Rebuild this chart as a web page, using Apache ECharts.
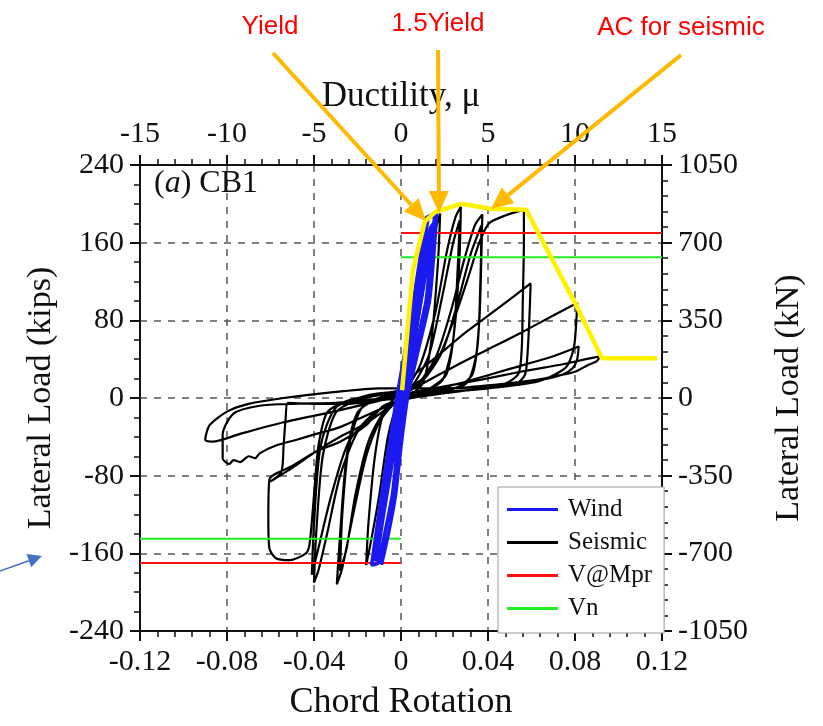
<!DOCTYPE html>
<html>
<head>
<meta charset="utf-8">
<script src="https://cdn.jsdelivr.net/npm/echarts@6/dist/echarts.min.js"></script>
<style>
  html, body { margin: 0; padding: 0; background: #fff; }
  #chart { width: 823px; height: 726px; }
</style>
</head>
<body>
<div id="chart"></div>
<script>
// axis ranges
const rotationRange = [-0.12, 0.12]
const loadRange = [-240, 240]
const kNRange = [-1050, 1050]
const ductilityRange = [-15, 15]

// wind test: dense elastic band (chord rotation, kips)
const windUp1 = [[-0.009, -172], [-0.0058, -140], [-0.0025, -100], [0.000, -50], [0.003, 0], [0.008, 50], [0.0131, 100], [0.0150, 145], [0.0164, 190]]
const windDown1 = [[0.0115, 185], [0.0085, 140], [0.0057, 100], [0.002, 50], [-0.002, 0], [-0.0055, -50], [-0.009, -100], [-0.0115, -140], [-0.0135, -172]]
const windUp2 = [[-0.0105, -170], [-0.0075, -140], [-0.004, -100], [-0.0015, -50], [0.0015, 0], [0.0065, 50], [0.0115, 100], [0.0135, 145], [0.0155, 188]]
const windDown2 = [[0.0125, 185], [0.010, 140], [0.0072, 100], [0.0035, 50], [-0.0005, 0], [-0.004, -50], [-0.0075, -100], [-0.010, -140], [-0.012, -168]]
const windUp3 = [[-0.0112, -165], [-0.008, -120], [-0.005, -80], [-0.0005, -20], [0.002, 10], [0.006, 60], [0.010, 110], [0.0128, 150], [0.0150, 180]]
const windDown3 = [[0.0135, 175], [0.0105, 130], [0.0075, 90], [0.003, 30], [0.000, -10], [-0.003, -40], [-0.0065, -90], [-0.0095, -130], [-0.0125, -165]]

// seismic test: cycles of increasing amplitude
const seismic1 = [[0, 0], [0.004, 60], [0.008, 120], [0.006, 60], [0.002, 5], [-0.004, -50], [-0.008, -110], [-0.006, -55], [-0.002, -5]]
const seismic2 = [[0.003, 20], [0.008, 80], [0.013, 150], [0.018, 190], [0.017, 140], [0.014, 60], [0.010, 15], [0.004, 2], [-0.002, -10], [-0.006, -40], [-0.010, -100], [-0.014, -150], [-0.016, -172], [-0.015, -130], [-0.012, -60], [-0.008, -15], [-0.003, 0]]
const seismic3 = [[0.002, 8], [0.009, 35], [0.016, 90], [0.021, 150], [0.025, 186], [0.0275, 197], [0.027, 150], [0.025, 80], [0.021, 25], [0.012, 8], [0.004, 2], [-0.004, -8], [-0.010, -25], [-0.016, -60], [-0.022, -120], [-0.027, -175], [-0.0295, -192], [-0.028, -140], [-0.025, -60], [-0.020, -15], [-0.010, 0], [0, 3]]
const seismic4 = [[0.006, 15], [0.013, 45], [0.019, 105], [0.024, 160], [0.027, 183], [0.026, 130], [0.024, 60], [0.019, 18], [0.010, 6], [0, -2], [-0.008, -15], [-0.015, -45], [-0.021, -100], [-0.025, -155], [-0.028, -178], [-0.027, -120], [-0.024, -50], [-0.018, -10], [-0.008, 2], [0, 5]]
const seismic5 = [[0.008, 15], [0.016, 42], [0.023, 90], [0.029, 142], [0.034, 178], [0.0374, 189], [0.037, 150], [0.036, 80], [0.033, 25], [0.025, 10], [0.012, 4], [0, -2], [-0.010, -12], [-0.020, -35], [-0.028, -80], [-0.034, -140], [-0.038, -178], [-0.040, -190], [-0.039, -140], [-0.036, -60], [-0.030, -15], [-0.020, -2], [-0.008, 4], [0, 8]]
const seismic6 = [[0.010, 18], [0.019, 48], [0.026, 98], [0.032, 148], [0.037, 178], [0.0365, 120], [0.035, 50], [0.030, 15], [0.015, 6], [0, -3], [-0.012, -15], [-0.024, -45], [-0.032, -100], [-0.038, -155], [-0.041, -182], [-0.040, -130], [-0.037, -50], [-0.030, -10], [-0.015, 3], [0, 8]]
const seismic7 = [[0.010, 20], [0.018, 45], [0.025, 85], [0.031, 125], [0.036, 160], [0.0405, 180], [0.048, 188], [0.0565, 194], [0.0565, 160], [0.056, 100], [0.0555, 50], [0.054, 25], [0.048, 15], [0.035, 9], [0.020, 5], [0.005, 0], [-0.008, -8], [-0.016, -28], [-0.028, -45], [-0.039, -55], [-0.050, -70], [-0.0605, -84], [-0.061, -124], [-0.0605, -155], [-0.0575, -165], [-0.0514, -167], [-0.0437, -160], [-0.042, -150], [-0.040, -100], [-0.038, -50], [-0.034, -15], [-0.025, -3], [-0.012, 3], [0, 8]]
const seismic8 = [[0.004, 20], [0.015, 40], [0.030, 68], [0.045, 93], [0.0596, 118], [0.059, 80], [0.058, 40], [0.057, 24], [0.0527, 14], [0.040, 10], [0.025, 7], [0.010, 3], [0, 0], [-0.012, -3], [-0.025, -6], [-0.040, -6], [-0.052, -5], [-0.053, -20], [-0.054, -50], [-0.055, -76], [-0.060, -86], [-0.050, -72], [-0.039, -55], [-0.028, -40], [-0.016, -26], [-0.006, -10], [0, 2]]
const seismic9 = [[0.010, 15], [0.025, 33], [0.040, 50], [0.055, 67], [0.070, 85], [0.081, 98], [0.0805, 75], [0.0794, 51], [0.0756, 31], [0.063, 17], [0.040, 10], [0.020, 6], [0, 2], [-0.015, -2], [-0.030, -5], [-0.050, -6], [-0.065, -8], [-0.077, -16], [-0.082, -38], [-0.082, -62], [-0.079, -68], [-0.077, -64], [-0.074, -66], [-0.070, -60], [-0.067, -62], [-0.065, -57], [-0.0575, -49], [-0.048, -43], [-0.039, -37], [-0.028, -30], [-0.016, -18], [-0.006, -8], [0, -2]]
const seismic10 = [[0.010, 5], [0.030, 17], [0.050, 30], [0.070, 43], [0.0817, 53], [0.081, 40], [0.079, 31], [0.074, 24], [0.060, 17], [0.040, 12], [0.020, 10], [-0.010, 10], [-0.031, 6], [-0.054, 0], [-0.070, -6], [-0.080, -14], [-0.088, -28], [-0.090, -43], [-0.0866, -45], [-0.074, -37], [-0.054, -25], [-0.031, -14], [-0.0084, -2], [0, 3]]
const seismic11 = [[0.015, 10], [0.035, 18], [0.055, 27], [0.075, 35], [0.085, 40], [0.0916, 43], [0.090, 38], [0.086, 34], [0.080, 27], [0.070, 22], [0.063, 19], [0.045, 14], [0.025, 10], [0.005, 6]]

// design strengths (kips)
const vMprPos = [[0, 170], [0.12, 170]]
const vMprNeg = [[-0.12, -170], [0, -170]]
const vnPos = [[0, 145], [0.12, 145]]
const vnNeg = [[-0.12, -145], [0, -145]]

// acceptance envelope
const envelope = [[0.0005, 8], [0.0055, 132], [0.011, 182], [0.016, 192], [0.0276, 200], [0.0414, 195], [0.0575, 194], [0.080, 98], [0.0924, 41], [0.1177, 41]]

const wind = [].concat(windUp1, windDown1, windUp2, windDown2, windUp3, windDown3)
const seismic = [].concat(seismic1, seismic2, seismic3, seismic4, seismic5, seismic6, seismic7, seismic8, seismic9, seismic10, seismic11)

const serif = 'Liberation Serif'
const ink = '#111'
const orange = '#FFB900'

function arrow (x1, y1, x2, y2, color, width, head, half) {
  const dx = x2 - x1
  const dy = y2 - y1
  const len = Math.sqrt(dx * dx + dy * dy)
  const ux = dx / len
  const uy = dy / len
  const bx = x2 - ux * head
  const by = y2 - uy * head
  return [{
    type: 'line',
    shape: { x1: x1, y1: y1, x2: bx, y2: by },
    style: { stroke: color, lineWidth: width },
    z: 100
  }, {
    type: 'polygon',
    shape: { points: [[x2, y2], [bx - uy * half, by + ux * half], [bx + uy * half, by - ux * half]] },
    style: { fill: color },
    z: 100
  }]
}

function redText (text, x, y) {
  return {
    type: 'text',
    x: x,
    y: y,
    style: {
      text: text,
      fill: '#FF0000',
      font: '26px "Liberation Sans"',
      align: 'center',
      verticalAlign: 'middle'
    },
    z: 100
  }
}

const axisCommon = {
  axisLine: { onZero: false, lineStyle: { color: ink, width: 2 } },
  axisTick: { length: 10, lineStyle: { color: ink, width: 2 } },
  axisLabel: { fontFamily: serif, fontSize: 30, color: ink, showMinLabel: true, showMaxLabel: true },
  nameTextStyle: { fontFamily: serif, fontSize: 36, color: ink }
}
const dashed = { show: true, lineStyle: { color: '#555', width: 1.5, type: [7, 7] } }

const chart = echarts.init(document.getElementById('chart'), null, { renderer: 'canvas' })
chart.setOption({
  animation: false,
  backgroundColor: '#fff',
  grid: { left: 140, right: 161, top: 165, bottom: 93 },
  legend: {
    data: ['Wind', 'Seismic', 'V@Mpr', 'Vn'],
    orient: 'vertical',
    left: 498,
    top: 487,
    padding: [10, 12, 12, 9],
    itemGap: 8,
    itemWidth: 51,
    itemHeight: 3,
    icon: 'rect',
    backgroundColor: '#fff',
    borderColor: '#999',
    borderWidth: 1,
    borderRadius: 0,
    textStyle: { fontFamily: serif, fontSize: 25, color: ink, lineHeight: 25, padding: [0, 0, 0, 5] }
  },
  xAxis: [{
    type: 'value',
    position: 'bottom',
    min: rotationRange[0],
    max: rotationRange[1],
    interval: 0.04,
    name: 'Chord Rotation',
    nameLocation: 'middle',
    nameGap: 54,
    nameTextStyle: axisCommon.nameTextStyle,
    axisLine: axisCommon.axisLine,
    axisTick: axisCommon.axisTick,
    minorTick: { show: true, splitNumber: 5, length: 6, lineStyle: { color: ink, width: 1.5 } },
    axisLabel: Object.assign({}, axisCommon.axisLabel, {
      margin: 16,
      formatter: v => (Math.abs(v) < 1e-9 ? '0' : v.toFixed(2))
    }),
    splitLine: dashed
  }, {
    type: 'value',
    position: 'top',
    min: ductilityRange[0],
    max: ductilityRange[1],
    interval: 5,
    name: 'Ductility, μ',
    nameLocation: 'middle',
    nameGap: 50,
    nameTextStyle: Object.assign({}, axisCommon.nameTextStyle, { fontSize: 35 }),
    axisLine: axisCommon.axisLine,
    axisTick: axisCommon.axisTick,
    minorTick: { show: true, splitNumber: 5, length: 6, lineStyle: { color: ink, width: 1.5 } },
    axisLabel: Object.assign({}, axisCommon.axisLabel, { margin: 16, formatter: v => String(v) }),
    splitLine: { show: false }
  }],
  yAxis: [{
    type: 'value',
    position: 'left',
    min: loadRange[0],
    max: loadRange[1],
    interval: 80,
    name: 'Lateral Load (kips)',
    nameLocation: 'middle',
    nameRotate: 90,
    nameGap: 82,
    nameTextStyle: Object.assign({}, axisCommon.nameTextStyle, { fontSize: 34 }),
    axisLine: axisCommon.axisLine,
    axisTick: axisCommon.axisTick,
    minorTick: { show: true, splitNumber: 4, length: 6, lineStyle: { color: ink, width: 1.5 } },
    axisLabel: Object.assign({}, axisCommon.axisLabel, { margin: 16, formatter: v => String(v) }),
    splitLine: dashed
  }, {
    type: 'value',
    position: 'right',
    min: kNRange[0],
    max: kNRange[1],
    interval: 350,
    name: 'Lateral Load (kN)',
    nameLocation: 'middle',
    nameRotate: 90,
    nameGap: 110,
    nameTextStyle: Object.assign({}, axisCommon.nameTextStyle, { fontSize: 34 }),
    axisLine: axisCommon.axisLine,
    axisTick: axisCommon.axisTick,
    minorTick: { show: true, splitNumber: 5, length: 6, lineStyle: { color: ink, width: 1.5 } },
    axisLabel: Object.assign({}, axisCommon.axisLabel, { margin: 16, formatter: v => String(v) }),
    splitLine: { show: false }
  }],
  series: [
    { name: 'Seismic', type: 'line', data: seismic, showSymbol: false, smooth: 0.25, lineStyle: { color: '#000', width: 2.2 }, itemStyle: { color: '#000' } },
    { name: 'V@Mpr', type: 'line', data: vMprPos, showSymbol: false, lineStyle: { color: '#FF1010', width: 2 }, itemStyle: { color: '#FF1010' } },
    { name: 'V@Mpr', type: 'line', data: vMprNeg, showSymbol: false, lineStyle: { color: '#FF1010', width: 2 }, itemStyle: { color: '#FF1010' } },
    { name: 'Vn', type: 'line', data: vnPos, showSymbol: false, lineStyle: { color: '#22EE22', width: 2 }, itemStyle: { color: '#22EE22' } },
    { name: 'Vn', type: 'line', data: vnNeg, showSymbol: false, lineStyle: { color: '#22EE22', width: 2 }, itemStyle: { color: '#22EE22' } },
    { name: 'Wind', type: 'line', data: wind, showSymbol: false, smooth: 0.2, lineStyle: { color: '#1A1AF0', width: 3.5 }, itemStyle: { color: '#1A1AF0' } },
    { name: 'Envelope', type: 'line', data: envelope, showSymbol: false, lineStyle: { color: '#FFF200', width: 4.5 }, itemStyle: { color: '#FFF200' } }
  ],
  graphic: [
    {
      type: 'text',
      left: 154,
      top: 168,
      style: {
        text: '({i|a}) CB1',
        font: '32px "Liberation Serif"',
        fill: ink,
        rich: { i: { fontStyle: 'italic', fontFamily: serif, fontSize: 32, fill: ink } }
      },
      z: 100
    },
    redText('Yield', 270, 27),
    redText('1.5Yield', 438, 24),
    redText('AC for seismic', 681, 28)
  ].concat(
    arrow(273, 53, 426, 221, orange, 4, 22, 10),
    arrow(438, 50, 439, 213, orange, 4, 22, 10),
    arrow(681, 55, 491, 209, orange, 4, 22, 10),
    arrow(0, 571, 42, 556, '#4472C4', 1.5, 14, 7)
  )
})
</script>
</body>
</html>
